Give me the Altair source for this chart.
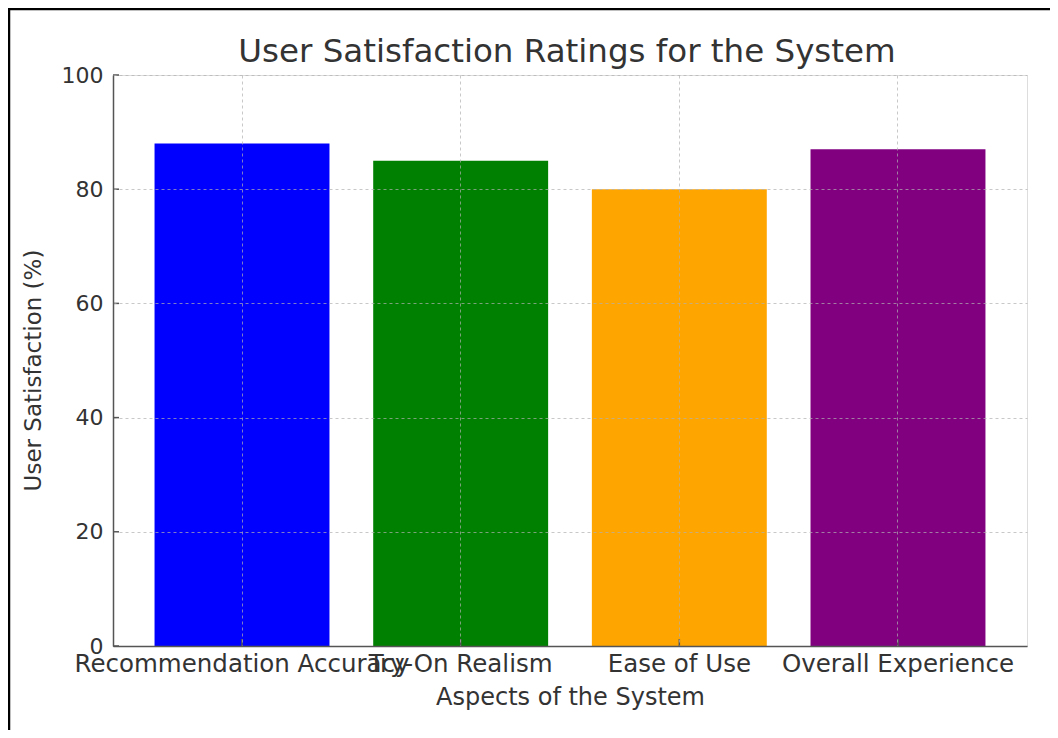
import altair as alt
import pandas as pd

categories = ["Recommendation Accuracy", "Try-On Realism", "Ease of Use", "Overall Experience"]
satisfaction = [88, 85, 80, 87]
bar_colors = ["#0000ff", "#008000", "#ffa500", "#800080"]
y_ticks = [0, 20, 40, 60, 80, 100]
title_text = "User Satisfaction Ratings for the System"

W, H = 914, 571
PAD = {"left": 105, "top": 67, "right": 23, "bottom": 84}
FONT = "DejaVu Sans"
TXT = "#333333"

df = pd.DataFrame({"Aspect": categories, "Satisfaction": satisfaction})
df_yt = pd.DataFrame({"Satisfaction": y_ticks})
df_xt = pd.DataFrame({"Aspect": categories})

x_enc = alt.X(
    "Aspect:N",
    sort=categories,
    scale=alt.Scale(paddingInner=0.2, paddingOuter=0.19),
    axis=alt.Axis(
        title="Aspects of the System",
        labelAngle=0,
        labelLimit=0,
        labelBound=False,
        labelFont=FONT,
        labelFontSize=24.5,
        labelColor=TXT,
        labelPadding=6,
        titleFont=FONT,
        titleFontSize=24,
        titleFontWeight="normal",
        titleColor=TXT,
        titlePadding=10,
        tickSize=0,
        domainColor="#555555",
        domainWidth=1.5,
        grid=True,
        gridColor="#b0b0b0",
        gridOpacity=0.7,
        gridDash=[3, 3],
        gridWidth=1,
        zindex=1,
    ),
)

y_enc = alt.Y(
    "Satisfaction:Q",
    scale=alt.Scale(domain=[0, 100], nice=False),
    axis=alt.Axis(
        title="User Satisfaction (%)",
        values=y_ticks,
        labelFont=FONT,
        labelFontSize=22,
        labelColor=TXT,
        labelPadding=10,
        titleFont=FONT,
        titleFontSize=23,
        titleFontWeight="normal",
        titleColor=TXT,
        titleX=-80,
        titleY=295,
        titleBaseline="middle",
        titleAngle=270,
        tickSize=0,
        domainColor="#555555",
        domainWidth=1.5,
        grid=True,
        gridColor="#b0b0b0",
        gridOpacity=0.7,
        gridDash=[3, 3],
        gridWidth=1,
        zindex=1,
    ),
)

bars = alt.Chart(df).mark_bar().encode(
    x=x_enc,
    y=y_enc,
    color=alt.Color("Aspect:N", sort=categories,
                    scale=alt.Scale(domain=categories, range=bar_colors), legend=None),
)

yticks = alt.Chart(df_yt).mark_rule(color="#555555", strokeWidth=1.5).encode(
    y=alt.Y("Satisfaction:Q"),
    x=alt.value(0),
    x2=alt.value(6),
)

xticks = alt.Chart(df_xt).mark_rule(color="#555555", strokeWidth=1.5).encode(
    x=alt.X("Aspect:N", sort=categories),
    y=alt.value(H - 7),
    y2=alt.value(H),
)

title = alt.Chart(alt.Data(values=[{"t": title_text}])).mark_text(
    font=FONT, fontSize=32.5, color=TXT, align="center", baseline="middle"
).encode(
    text="t:N",
    x=alt.value(454),
    y=alt.value(-23),
)

frame_left = alt.Chart(alt.Data(values=[{}])).mark_rule(color="#000000", strokeWidth=2.5).encode(
    x=alt.value(-PAD["left"] + 1),
    y=alt.value(-PAD["top"]),
    y2=alt.value(H + PAD["bottom"]),
)

frame_top = alt.Chart(alt.Data(values=[{}])).mark_rule(color="#000000", strokeWidth=2.5).encode(
    y=alt.value(-PAD["top"] + 1),
    x=alt.value(-PAD["left"]),
    x2=alt.value(W + PAD["right"]),
)

chart = alt.layer(bars, yticks, xticks, title, frame_left, frame_top).properties(
    width=W,
    height=H,
    padding=PAD,
    autosize="none",
).configure_view(strokeWidth=0).configure(background="white")

chart.save("out.html", embed_options={"renderer": "svg", "actions": False})
